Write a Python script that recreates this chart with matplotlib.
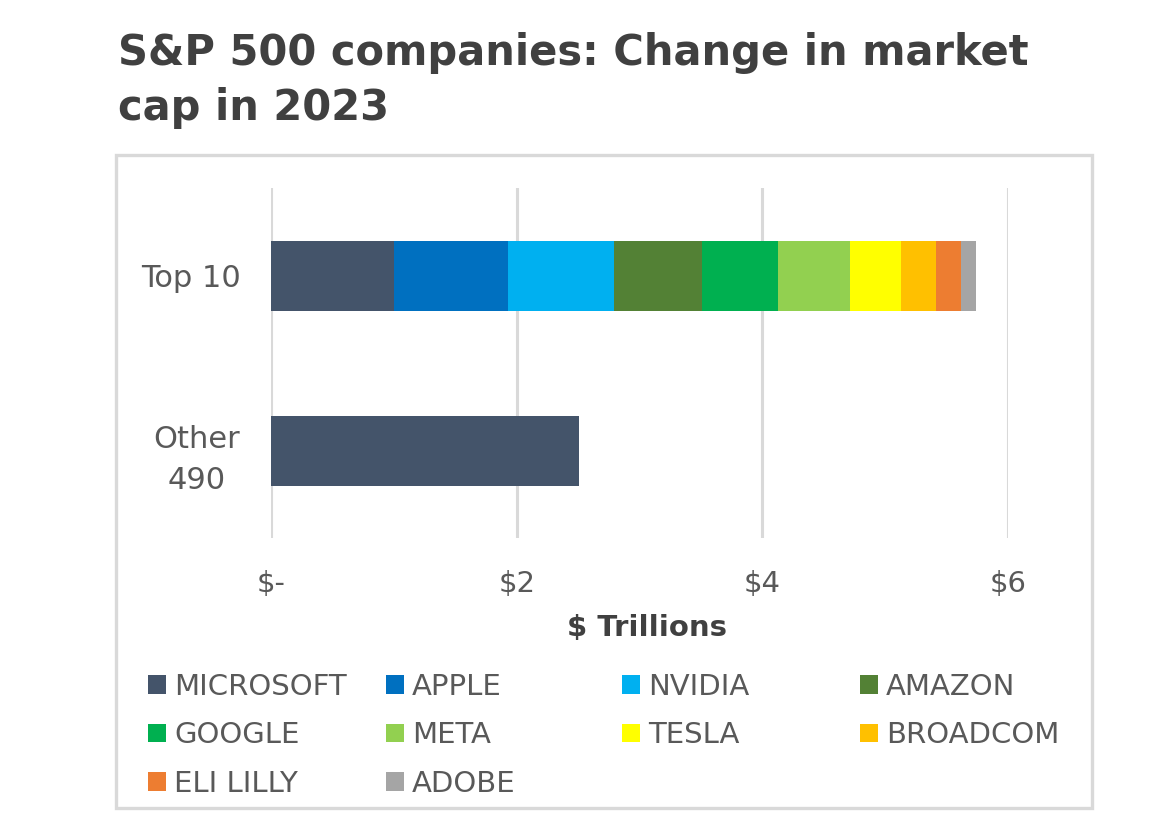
import matplotlib.pyplot as plt
from matplotlib.patches import Rectangle, Patch

# ===== data =====
categories = ["Top 10", "Other\n490"]
companies = ["MICROSOFT", "APPLE", "NVIDIA", "AMAZON", "GOOGLE",
             "META", "TESLA", "BROADCOM", "ELI LILLY", "ADOBE"]
top10_change = [1.00, 0.93, 0.865, 0.71, 0.62, 0.59, 0.41, 0.285, 0.21, 0.12]
other490_change = 2.51
colors = ["#44546A", "#0070C0", "#00B0F0", "#538135", "#00B050",
          "#92D050", "#FFFF00", "#FFC000", "#ED7D31", "#A5A5A5"]
xticks = [0, 2, 4, 6]
xtick_labels = ["$-", "$2", "$4", "$6"]

text_grey = "#595959"
title_grey = "#404040"

plt.rcParams["font.family"] = ["DejaVu Sans"]

W, H = 1167, 823
fig = plt.figure(figsize=(W / 100, H / 100), dpi=100)

# outer frame
fig.patches.append(Rectangle((116 / W, 1 - 808 / H), 976 / W, 653 / H,
                             transform=fig.transFigure, fill=False,
                             edgecolor="#D9D9D9", linewidth=2.4))

fig.text(118 / W, 1 - 32 / H, "S&P 500 companies: Change in market\ncap in 2023",
         ha="left", va="top", fontsize=30, fontweight="bold",
         color=title_grey, linespacing=1.4)

ax = fig.add_axes([271 / W, 1 - 538 / H, 737 / W, 350 / H])

# stacked bar for top 10
left = 0
for val, col in zip(top10_change, colors):
    ax.barh(0, val, left=left, height=0.4, color=col, zorder=3)
    left += val
ax.barh(1, other490_change, height=0.4, color=colors[0], zorder=3)

ax.set_xlim(0, 6)
ax.set_ylim(1.5, -0.5)
ax.set_xticks(xticks)
ax.set_xticklabels(xtick_labels, fontsize=21, color=text_grey)
ax.set_yticks([0, 1])
ax.set_yticklabels(categories, fontsize=22, color=text_grey,
                   multialignment="center", linespacing=1.55)
ax.tick_params(axis="both", length=0)
ax.tick_params(axis="x", pad=23)
ax.tick_params(axis="y", pad=22)
ax.grid(axis="x", color="#D9D9D9", linewidth=2.2, zorder=0)
for s in ax.spines.values():
    s.set_visible(False)

ax.set_xlabel("$ Trillions", fontsize=21, fontweight="bold", color=title_grey)
ax.xaxis.set_label_coords(0.51, -0.217)

# legend: one column at a time so the columns sit at fixed positions
col_x = [148, 386, 622, 860]
col_items = [[0, 4, 8], [1, 5, 9], [2, 6], [3, 7]]
for cx, items in zip(col_x, col_items):
    handles = [Patch(facecolor=colors[i], label=companies[i]) for i in items]
    fig.legend(handles=handles, loc="upper left",
               bbox_to_anchor=(cx / W, 1 - 673 / H), frameon=False,
               borderpad=0, borderaxespad=0,
               fontsize=21, labelcolor=text_grey, handlelength=0.6,
               handleheight=0.6, handletextpad=0.3, labelspacing=0.7)

plt.savefig("out.png", dpi=100)
